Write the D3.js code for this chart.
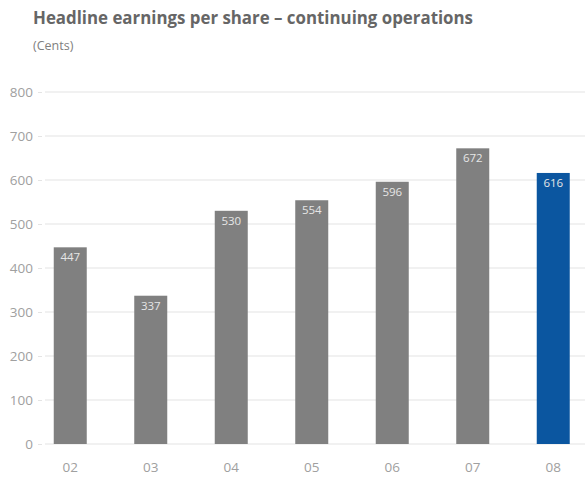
<!DOCTYPE html>
<html lang="en">
<head>
    <meta charset="UTF-8">
    <title>Headline earnings per share</title>
    <style>
        body { margin: 0; background: #fff; }
        svg { display: block; font-family: "Open Sans", sans-serif; }
    </style>
    <script src="https://cdn.jsdelivr.net/npm/d3@7"></script>
</head>
<body>
    <div id="chart"></div>
    <script>
        const years = ['02', '03', '04', '05', '06', '07', '08']
        const eps = [447, 337, 530, 554, 596, 672, 616]
        const yTicks = [0, 100, 200, 300, 400, 500, 600, 700, 800]

        const w = 585
        const h = 479

        let svg = d3.select('#chart').append('svg')
            .attr('width', w)
            .attr('height', h)

        // title
        svg.append('text')
           .attr('x', 33)
           .attr('y', 24)
           .attr('fill', '#666')
           .attr('font-size', 17)
           .attr('font-weight', 'bold')
           .attr('textLength', 440)
           .attr('lengthAdjust', 'spacingAndGlyphs')
           .text('Headline earnings per share – continuing operations')

        svg.append('text')
           .attr('x', 33)
           .attr('y', 50)
           .attr('fill', '#808080')
           .attr('font-size', 12.5)
           .text('(Cents)')

        let xScale = d3.scaleBand()
                       .domain(years)
                       .range([30, 593.5])
                       .paddingInner(0.59)
                       .paddingOuter(0.295)

        let yScale = d3.scaleLinear()
                       .domain([0, 800])
                       .range([444, 92])

        // gridlines
        svg.append('g')
           .selectAll('line')
           .data(yTicks)
           .enter()
           .append('line')
           .attr('x1', 45)
           .attr('x2', w)
           .attr('y1', d => yScale(d))
           .attr('y2', d => yScale(d))
           .attr('stroke', '#e4e4e4')
           .attr('stroke-width', 1.2)

        // y axis labels + little tick dashes
        let yAxis = d3.axisLeft(yScale)
                      .tickValues(yTicks)
                      .tickSize(4)
                      .tickPadding(5)
        let gy = svg.append('g')
                    .attr('transform', 'translate(42, 0)')
                    .call(yAxis)
        gy.select('.domain').remove()
        gy.selectAll('line').attr('stroke', '#e4e4e4')
        gy.selectAll('text')
          .attr('fill', '#a0a0a0')
          .attr('font-size', 13.5)
          .attr('font-family', '"Open Sans", sans-serif')

        // bars
        svg.selectAll('rect.bar')
           .data(eps)
           .enter()
           .append('rect')
           .attr('class', 'bar')
           .attr('x', (d, i) => xScale(years[i]))
           .attr('y', d => yScale(d))
           .attr('width', xScale.bandwidth())
           .attr('height', d => yScale(0) - yScale(d))
           .attr('fill', (d, i) => i === eps.length - 1 ? '#0b56a0' : '#808080')

        // value labels inside bars
        svg.selectAll('text.val')
           .data(eps)
           .enter()
           .append('text')
           .attr('class', 'val')
           .attr('x', (d, i) => xScale(years[i]) + xScale.bandwidth() / 2)
           .attr('y', d => yScale(d) + 14)
           .attr('text-anchor', 'middle')
           .attr('fill', '#e6e6e6')
           .attr('font-size', 11.5)
           .text(d => d)

        // x axis
        let xAxis = d3.axisBottom(xScale).tickSize(0).tickPadding(18)
        let gx = svg.append('g')
                    .attr('transform', `translate(0, ${yScale(0)})`)
                    .call(xAxis)
        gx.select('.domain').remove()
        gx.selectAll('text')
          .attr('fill', '#a0a0a0')
          .attr('font-size', 13.5)
          .attr('font-family', '"Open Sans", sans-serif')
    </script>
</body>
</html>
